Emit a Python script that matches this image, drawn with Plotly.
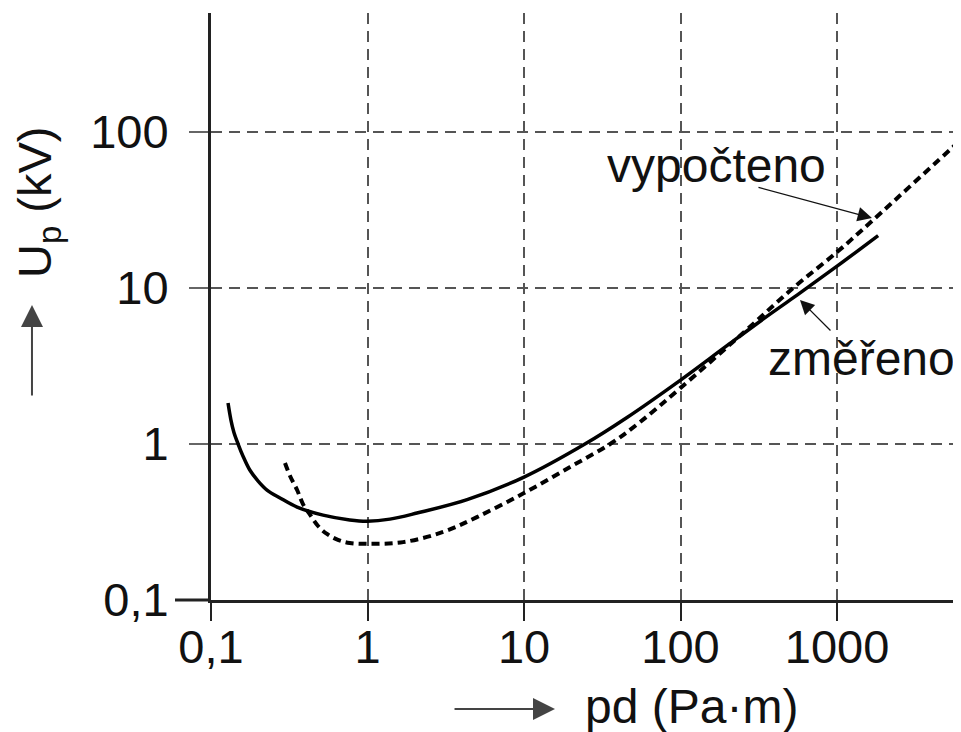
import plotly.graph_objects as go

# values (pd in Pa·m, Up in kV)
pd_measured = [0.1285, 0.134, 0.140, 0.149, 0.160, 0.177, 0.200, 0.228, 0.276, 0.355,
               0.52, 0.77, 1.0, 1.39, 2.07, 4.33, 10, 24.5, 45.5, 100,
               200, 373, 581, 1000, 1830]
up_measured = [1.83, 1.43, 1.19, 1.0, 0.838, 0.681, 0.579, 0.507, 0.451, 0.394,
               0.35, 0.326, 0.32, 0.33, 0.361, 0.44, 0.614, 1.0, 1.48, 2.57,
               4.3, 6.8, 9.3, 13.8, 21.7]

pd_calc = [0.297, 0.320, 0.355, 0.387, 0.430, 0.483, 0.551, 0.647, 0.77, 1.0,
           1.69, 3.04, 5.0, 10, 19.7, 35.5, 55, 100, 250, 524,
           1000, 1700, 5510, 6100]
up_calc = [0.755, 0.624, 0.507, 0.412, 0.351, 0.298, 0.265, 0.243, 0.232, 0.229,
           0.235, 0.273, 0.34, 0.485, 0.713, 1.0, 1.38, 2.29, 5.13, 10.0,
           17.0, 27.3, 80.2, 88.0]

x_ticks = [0.1, 1, 10, 100, 1000]
x_ticktext = ["0,1", "1", "10", "100", "1000"]
y_ticks = [0.1, 1, 10, 100]
y_ticktext = ["0,1", "1", "10", "100"]

FONT = "Liberation Sans, Arial, sans-serif"
INK = "#111111"

fig = go.Figure()
fig.add_trace(go.Scatter(x=pd_calc, y=up_calc, mode="lines", name="vypočteno",
                         line=dict(color="black", width=4, dash="8px,5px", shape="spline")))
fig.add_trace(go.Scatter(x=pd_measured, y=up_measured, mode="lines", name="změřeno",
                         line=dict(color="black", width=3.5, shape="spline")))

# the page body adds an 8px offset, so the figure is 8px smaller
fig.update_layout(
    width=953, height=724,
    margin=dict(l=203, r=0, t=5, b=132),
    plot_bgcolor="white", paper_bgcolor="white",
    showlegend=False,
    font=dict(family=FONT, size=48, color=INK),
)
fig.update_xaxes(
    type="log", range=[-1, 3.792],
    tickvals=x_ticks, ticktext=x_ticktext,
    ticks="outside", ticklen=18, tickwidth=2, tickcolor="#222",
    ticklabelstandoff=-14,
    showline=True, linewidth=3, linecolor="#222",
    showgrid=True, gridcolor="#555", gridwidth=2, griddash="11px,7px",
    zeroline=False, tickfont=dict(size=47),
)
fig.update_yaxes(
    type="log", range=[-1, 2.763],
    tickvals=y_ticks, ticktext=y_ticktext,
    ticks="outside", ticklen=19, tickwidth=2, tickcolor="#666",
    ticklabelstandoff=11,
    showline=True, linewidth=3, linecolor="#222",
    showgrid=True, gridcolor="#555", gridwidth=2, griddash="11px,7px",
    zeroline=False, tickfont=dict(size=47),
)

# x-axis line runs a bit left of the y-axis
fig.add_shape(type="line", xref="paper", yref="paper", x0=-0.048, x1=0, y0=0, y1=0,
              line=dict(color="#222", width=3))

arrows = [
    dict(x=0.8813, y=0.6508, ax=-115, ay=-31, arrowwidth=1.3, arrowcolor="#111"),
    dict(x=0.7853, y=0.5111, ax=32, ay=32, arrowwidth=1.3, arrowcolor="#111"),
    dict(x=0.4587, y=-0.1857, ax=-102, ay=0, arrowwidth=2, arrowcolor="#444"),
    dict(x=-0.2387, y=0.5026, ax=0, ay=92, arrowwidth=2, arrowcolor="#444"),
]
ann = []
for a in arrows:
    ann.append(dict(xref="paper", yref="paper", text="", showarrow=True,
                    arrowhead=2, arrowsize=2.2, **a))

ann += [
    dict(xref="paper", yref="paper", x=0.674, y=0.741, text="vypočteno",
         showarrow=False, xanchor="center", yanchor="middle"),
    dict(xref="paper", yref="paper", x=0.995, y=0.412, text="změřeno",
         showarrow=False, xanchor="right", yanchor="middle"),
    dict(xref="paper", yref="paper", x=0.496, y=-0.181, text="pd (Pa·m)",
         showarrow=False, xanchor="left", yanchor="middle"),
    dict(xref="paper", yref="paper", x=-0.2307, y=0.678, text="U<sub>p</sub> (kV)",
         showarrow=False, xanchor="center", yanchor="middle", textangle=-90,
         font=dict(size=47)),
]
fig.update_layout(annotations=ann)

fig.write_html("out.html")
